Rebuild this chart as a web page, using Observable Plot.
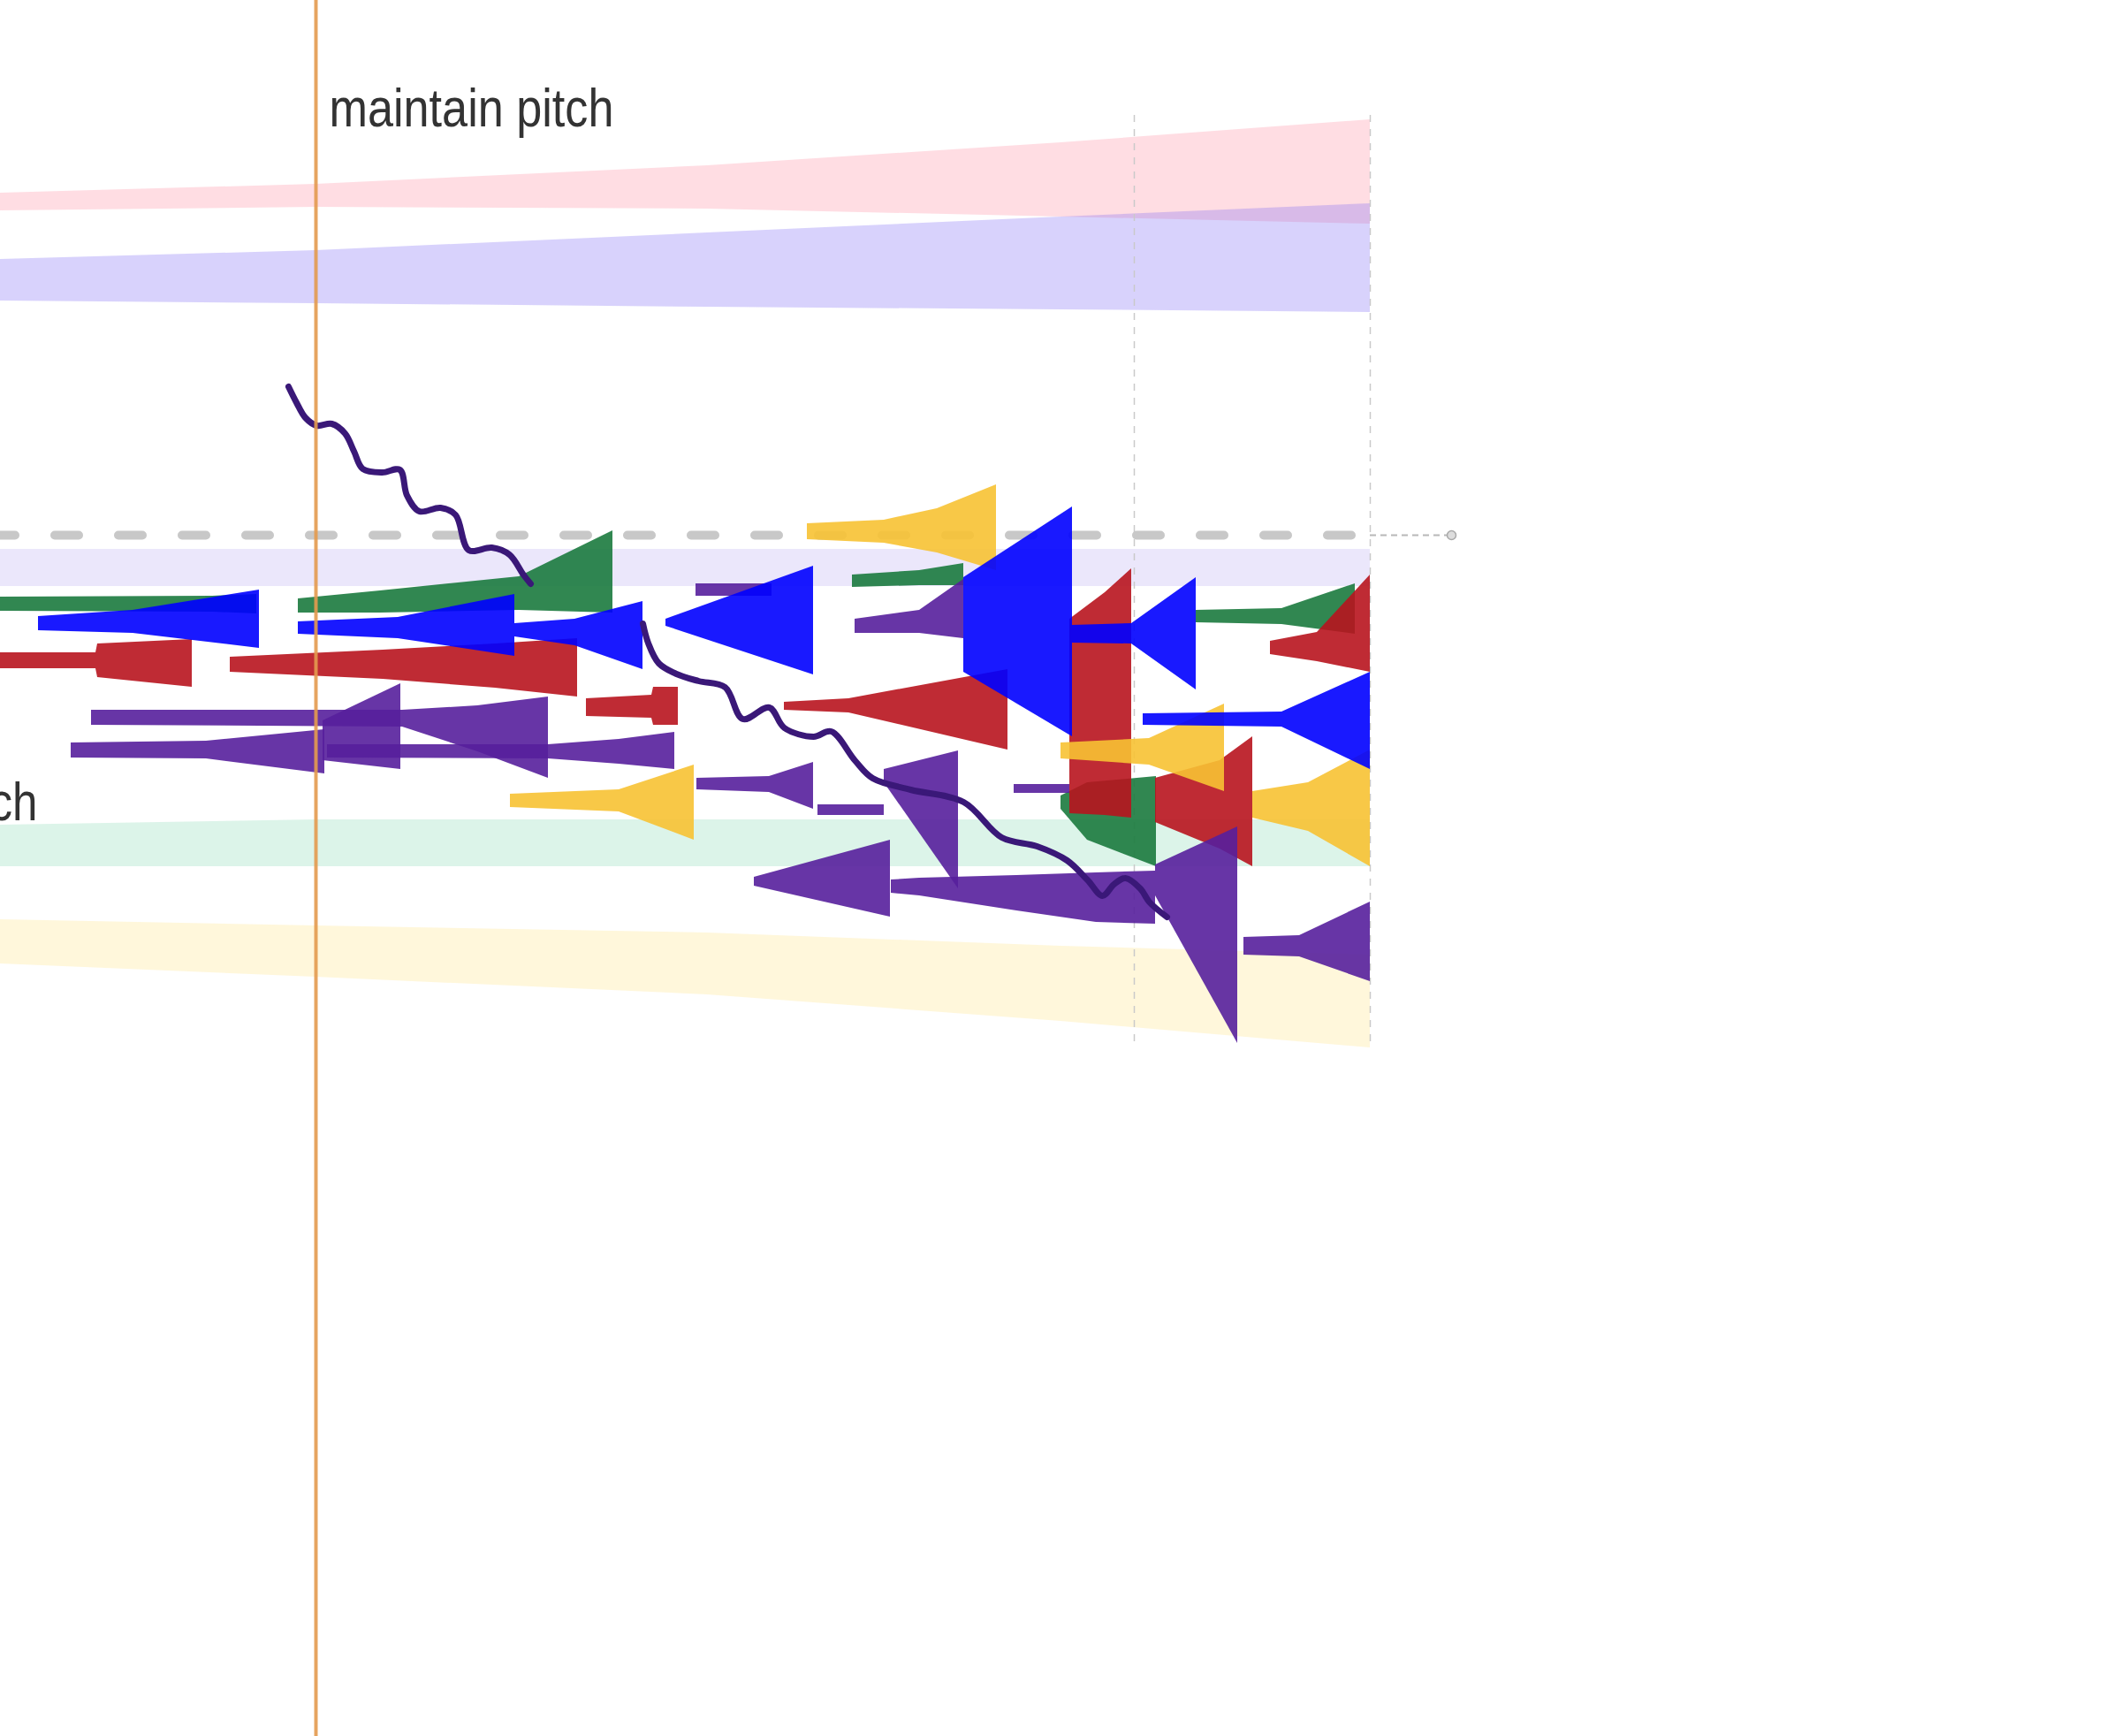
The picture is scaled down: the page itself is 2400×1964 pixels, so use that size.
<!DOCTYPE html>
<html>
<head>
<meta charset="utf-8">
<script src="https://cdn.jsdelivr.net/npm/d3@7"></script>
<script src="https://cdn.jsdelivr.net/npm/@observablehq/plot@0.6"></script>
<style>
html, body { margin: 0; padding: 0; background: #fff; overflow: hidden; }
#chart svg { display: block; }
</style>
</head>
<body>
<div id="chart"></div>
<script>
// x = time (s), y = pitch (deg)
const timeDomain = [0, 24];
const pitchDomain = [-67.95, 30.25];

// envelope bands
const bandTimes    = [0, 3.57, 8.0, 12.0, 15.5];
const pinkTop      = [19.35, 19.85, 20.9, 22.2, 23.5];
const pinkBottom   = [18.35, 18.55, 18.45, 18.0, 17.6];
const lavTop       = [15.6, 16.1, 17.1, 18.0, 18.75];
const lavBottom    = [13.25, 13.1, 12.9, 12.75, 12.6];
const paleTop      = [-0.8, -0.8, -0.8, -0.8, -0.8];
const paleBottom   = [-2.9, -2.9, -2.9, -2.9, -2.9];
const mintTop      = [-16.4, -16.1, -16.1, -16.1, -16.1];
const mintBottom   = [-18.75, -18.75, -18.75, -18.75, -18.75];
const creamTop     = [-21.75, -22.1, -22.5, -23.25, -23.75];
const creamBottom  = [-24.25, -25.0, -26.0, -27.5, -29.0];

// reference lines
const targetPitch = [0];
const targetEnd = [15.5, 16.42];
const eventTimes = [3.57];
const gridTimes = [12.83, 15.5];
const gridExtent = [23.75, -29.0];

// trumpet shapes: [id, time, top, bottom]
const greenShapes = [
  [1, 0.00, -3.50, -4.30], [1, 2.40, -3.45, -4.35], [1, 2.90, -3.35, -4.45],
  [2, 3.37, -3.60, -4.40], [2, 4.30, -3.15, -4.40], [2, 5.87, -2.35, -4.25], [2, 6.93, 0.25, -4.40],
  [3, 9.64, -2.25, -2.95], [3, 10.40, -2.00, -2.85], [3, 10.90, -1.60, -2.85],
  [4, 13.53, -4.25, -4.95], [4, 14.50, -4.15, -5.05], [4, 15.33, -2.75, -5.60],
  [5, 12.00, -14.75, -15.50], [5, 12.30, -14.00, -17.25], [5, 13.08, -13.65, -18.75]
];
const redShapes = [
  [1, 0.00, -6.65, -7.55], [1, 1.08, -6.65, -7.55], [1, 1.10, -6.15, -8.05], [1, 2.17, -5.90, -8.60],
  [2, 2.60, -6.90, -7.75], [2, 4.33, -6.50, -8.15], [2, 5.60, -6.15, -8.65], [2, 6.53, -5.85, -9.15],
  [3, 6.63, -9.25, -10.25], [3, 7.37, -9.05, -10.35], [3, 7.39, -8.60, -10.75], [3, 7.67, -8.60, -10.75],
  [4, 8.87, -9.45, -9.90], [4, 9.60, -9.25, -10.05], [4, 11.40, -7.60, -12.15],
  [5, 12.10, -4.75, -15.75], [5, 12.50, -3.25, -15.85], [5, 12.80, -1.90, -16.00],
  [6, 13.07, -13.75, -16.25], [6, 13.80, -12.75, -17.75], [6, 14.17, -11.40, -18.75],
  [7, 14.37, -6.00, -6.75], [7, 14.90, -5.50, -7.15], [7, 15.50, -2.25, -7.75]
];
const purpleShapes = [
  [1, 1.03, -9.90, -10.75], [1, 4.55, -9.90, -10.85], [1, 5.40, -9.65, -12.25], [1, 6.20, -9.15, -13.75],
  [2, 3.65, -10.50, -12.75], [2, 4.53, -8.40, -13.25],
  [3, 0.80, -11.75, -12.60], [3, 2.33, -11.65, -12.65], [3, 3.67, -11.00, -13.50],
  [4, 3.70, -11.85, -12.60], [4, 6.20, -11.85, -12.65], [4, 7.00, -11.55, -12.95], [4, 7.63, -11.15, -13.25],
  [5, 7.88, -13.75, -14.40], [5, 8.70, -13.65, -14.55], [5, 9.20, -12.85, -15.50],
  [6, 9.25, -15.25, -15.85], [6, 10.00, -15.25, -15.85],
  [7, 8.53, -19.35, -19.85], [7, 10.07, -17.25, -21.60],
  [8, 10.08, -19.50, -20.25], [8, 10.40, -19.40, -20.40], [8, 11.50, -19.25, -21.25], [8, 12.40, -19.10, -21.90], [8, 13.07, -19.00, -22.00],
  [9, 13.07, -18.65, -20.40], [9, 14.00, -16.50, -28.75],
  [10, 14.07, -22.75, -23.75], [10, 14.70, -22.65, -23.85], [10, 15.50, -20.75, -25.25],
  [11, 9.67, -4.75, -5.55], [11, 10.40, -4.25, -5.55], [11, 10.90, -2.50, -5.85],
  [12, 7.87, -2.75, -3.45], [12, 8.73, -2.75, -3.45],
  [13, 10.00, -13.25, -14.00], [13, 10.84, -12.20, -20.00],
  [14, 11.47, -14.10, -14.60], [14, 12.10, -14.10, -14.60]
];
const yellowShapes = [
  [1, 9.13, 0.65, -0.25], [1, 10.00, 0.85, -0.45], [1, 10.60, 1.50, -1.00], [1, 11.27, 2.85, -2.00],
  [2, 5.77, -14.65, -15.40], [2, 7.00, -14.40, -15.65], [2, 7.85, -13.00, -17.25],
  [3, 12.00, -11.75, -12.65], [3, 13.00, -11.50, -13.00], [3, 13.85, -9.55, -14.50],
  [4, 14.17, -14.50, -16.00], [4, 14.80, -14.00, -16.75], [4, 15.50, -12.15, -18.75]
];
const blueShapes = [
  [1, 0.43, -4.60, -5.40], [1, 1.50, -4.25, -5.55], [1, 2.93, -3.10, -6.40],
  [2, 3.37, -4.90, -5.60], [2, 4.50, -4.65, -5.85], [2, 5.82, -3.35, -6.85],
  [3, 5.82, -5.00, -5.75], [3, 6.50, -4.75, -6.25], [3, 7.27, -3.75, -7.60],
  [4, 7.53, -4.75, -5.15], [4, 9.20, -1.75, -7.90],
  [5, 10.90, -2.40, -7.75], [5, 12.13, 1.60, -11.40],
  [6, 12.13, -5.10, -6.10], [6, 12.80, -5.00, -6.15], [6, 13.53, -2.40, -8.75],
  [7, 12.93, -10.10, -10.75], [7, 14.50, -10.00, -10.85], [7, 15.50, -7.75, -13.25]
];

// pitch oscillation traces: [time, pitch]
const wave1 = [
  [3.26, 8.4], [3.35, 7.5], [3.45, 6.65], [3.58, 6.2], [3.75, 6.3], [3.9, 5.75], [4.0, 4.75],
  [4.1, 3.75], [4.32, 3.55], [4.52, 3.7], [4.6, 2.25], [4.74, 1.35], [4.98, 1.55], [5.15, 1.15],
  [5.3, -0.85], [5.56, -0.7], [5.76, -1.1], [5.92, -2.25], [6.0, -2.75]
];
const wave2 = [
  [7.27, -5.0], [7.33, -6.1], [7.45, -7.25], [7.65, -7.85], [7.9, -8.25], [8.2, -8.6], [8.4, -10.4],
  [8.7, -9.75], [8.87, -10.9], [9.2, -11.4], [9.4, -11.1], [9.67, -12.75], [9.87, -13.75],
  [10.3, -14.4], [10.9, -15.1], [11.33, -17.1], [11.73, -17.6], [12.07, -18.4], [12.3, -19.5],
  [12.47, -20.4], [12.6, -19.75], [12.73, -19.4], [12.9, -20.0], [13.0, -20.75], [13.2, -21.6]
];

const labelsStart = [{t: 3.72, pitch: 24.1, text: "maintain pitch"}];
const labelsEnd = [{t: 0.42, pitch: -15.15, text: "pitch"}];

const rows = (shapes) => shapes.map(([id, t, top, bottom]) => ({id, t, top, bottom}));
const band = (tops, bottoms) => bandTimes.map((t, i) => ({t, top: tops[i], bottom: bottoms[i]}));
const bandMark = (tops, bottoms, fill, op) =>
  Plot.areaY(band(tops, bottoms), {x: "t", y1: "top", y2: "bottom", fill, fillOpacity: op});
const shapeMark = (shapes, fill) =>
  Plot.areaY(rows(shapes), {x: "t", y1: "top", y2: "bottom", z: "id", fill, fillOpacity: 0.9});

const svg = Plot.plot({
  width: 2400,
  height: 1964,
  marginTop: 0, marginRight: 0, marginBottom: 0, marginLeft: 0,
  x: {domain: timeDomain, axis: null},
  y: {domain: pitchDomain, axis: null},
  style: {background: "#fff", overflow: "hidden"},
  marks: [
    bandMark(pinkTop, pinkBottom, "#ff8fa3", 0.3),
    bandMark(lavTop, lavBottom, "#7d6af5", 0.3),
    bandMark(paleTop, paleBottom, "#b0a0f0", 0.25),
    bandMark(mintTop, mintBottom, "#80d8b0", 0.28),
    bandMark(creamTop, creamBottom, "#ffe070", 0.25),
    Plot.ruleX(gridTimes, {y1: gridExtent[0], y2: gridExtent[1], stroke: "#c9c9c9", strokeWidth: 1.5, strokeDasharray: "8,8"}),
    Plot.ruleY(targetPitch, {x1: 0, x2: targetEnd[0], stroke: "#c8c8c8", strokeWidth: 10, strokeDasharray: "27,45", strokeDashoffset: 10, strokeLinecap: "round"}),
    Plot.ruleY(targetPitch, {x1: targetEnd[0], x2: targetEnd[1], stroke: "#b8b8b8", strokeWidth: 2, strokeDasharray: "7,5"}),
    Plot.dot(targetPitch, {x: targetEnd[1], y: d => d, r: 5, stroke: "#aaa", fill: "#ddd"}),
    shapeMark(greenShapes, "#1b7a3e"),
    shapeMark(redShapes, "#b8141e"),
    shapeMark(purpleShapes, "#561f9c"),
    shapeMark(yellowShapes, "#f7c233"),
    shapeMark(blueShapes, "#0000ff"),
    Plot.line(wave1, {x: d => d[0], y: d => d[1], stroke: "#3a1878", strokeWidth: 7, curve: "catmull-rom"}),
    Plot.line(wave2, {x: d => d[0], y: d => d[1], stroke: "#3a1878", strokeWidth: 7, curve: "catmull-rom"}),
    Plot.ruleX(eventTimes, {stroke: "#e39a4f", strokeWidth: 4, strokeOpacity: 0.9}),
    Plot.text(labelsStart, {x: "t", y: "pitch", text: "text", textAnchor: "start", fontSize: 62, fill: "#333", fontFamily: "Liberation Sans Narrow, Liberation Sans, sans-serif"}),
    Plot.text(labelsEnd, {x: "t", y: "pitch", text: "text", textAnchor: "end", fontSize: 62, fill: "#333", fontFamily: "Liberation Sans Narrow, Liberation Sans, sans-serif"})
  ]
});

svg.querySelectorAll("text").forEach(el => {
  const s = el.textContent;
  if (s === "maintain pitch") { el.setAttribute("textLength", "322"); el.setAttribute("lengthAdjust", "spacingAndGlyphs"); }
  if (s === "pitch") { el.setAttribute("textLength", "108"); el.setAttribute("lengthAdjust", "spacingAndGlyphs"); }
});
document.getElementById("chart").append(svg);
</script>
</body>
</html>
